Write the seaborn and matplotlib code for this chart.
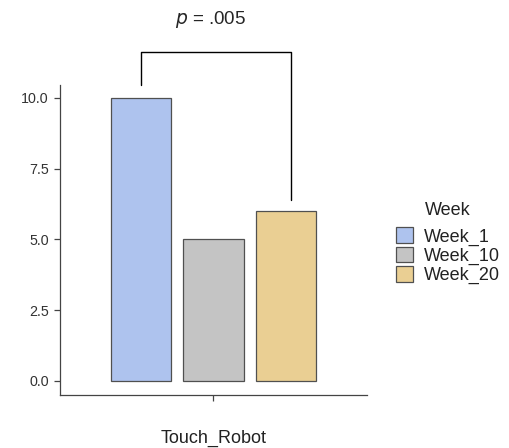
import seaborn as sns
import matplotlib.pyplot as plt
import pandas as pd

condition = ["Touch_Robot", "Touch_Robot", "Touch_Robot"]
weeks = ["Week_1", "Week_10", "Week_20"]
values = [10.0, 5.0, 6.0]
colors = ["#aec3ee", "#c4c4c4", "#eacf93"]
p_label = ".005"

df = pd.DataFrame({"Condition": condition, "Week": weeks, "Value": values})

sns.set_style("white")
plt.rcParams['font.family'] = ['Liberation Sans', 'DejaVu Sans']

fig = plt.figure(figsize=(5.1, 4.48), dpi=100)
ax = fig.add_axes([0.1176, 0.1183, 0.602, 0.692])

sns.barplot(data=df, x="Condition", y="Value", hue="Week", palette=colors,
            width=0.845, gap=0.17, edgecolor="#505050", linewidth=0.9,
            saturation=1, ax=ax)

ax.set_xlim(-0.596, 0.596)
ax.set_ylim(-0.5, 10.46)
ax.set_yticks([0, 2.5, 5, 7.5, 10])
ax.set_yticklabels(["0.0", "2.5", "5.0", "7.5", "10.0"])
ax.set_xlabel("")
ax.set_ylabel("")
for s in ["top", "right"]:
    ax.spines[s].set_visible(False)
for s in ["left", "bottom"]:
    ax.spines[s].set_color("#444444")
    ax.spines[s].set_linewidth(0.9)
ax.tick_params(axis="y", length=4, width=0.9, color="#444444", labelsize=10.3,
               labelcolor="#333333", left=True, pad=4)
ax.tick_params(axis="x", length=4, width=0.9, color="#444444", labelsize=13,
               labelcolor="#222222", bottom=True, pad=21)

# significance bracket between Week_1 and Week_20
bars = ax.patches[:3]
x1 = bars[0].get_x() + bars[0].get_width() / 2
x3 = bars[2].get_x() + bars[2].get_width() * 0.58
top = values[0] + 1.63
ax.plot([x1, x1, x3, x3], [values[0] + 0.46, top, top, values[2] + 0.4],
        color="black", lw=1.0, clip_on=False)
ax.text((x1 + x3) / 2 - 0.02, values[0] + 2.76, "$\\it{p}$ = " + p_label,
        ha="center", va="center", fontsize=13.5, clip_on=False)

leg = ax.legend(title="Week", loc="center left", bbox_to_anchor=(1.07, 0.49),
                frameon=False, fontsize=13, title_fontsize=13,
                handlelength=0.95, handleheight=0.95, handletextpad=0.6,
                labelspacing=0.06, borderaxespad=0)
leg._legend_box.sep = 6
leg.get_title().set_color("#222222")
for t in leg.get_texts():
    t.set_color("#222222")

fig.savefig("out.png", dpi=100)
